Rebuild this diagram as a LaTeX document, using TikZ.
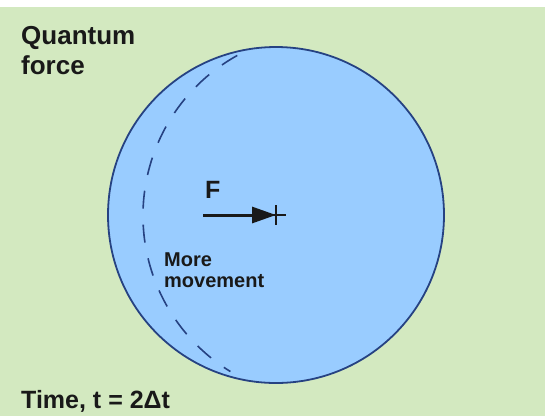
\documentclass[tikz,border=0pt]{standalone}
\usepackage{fontspec}
\setmainfont{Liberation Sans}
\usetikzlibrary{arrows.meta}

\definecolor{bggreen}{RGB}{211,233,192}
\definecolor{ballblue}{RGB}{153,204,255}
\definecolor{rimblue}{RGB}{38,66,130}
\definecolor{inkblack}{RGB}{25,25,25}

\begin{document}
\begin{tikzpicture}[x=1pt, y=-1pt,
    bigtext/.style={font=\fontsize{26}{29.5}\selectfont\bfseries, text=inkblack, inner sep=0pt},
    smalltext/.style={font=\fontsize{20}{21}\selectfont\bfseries, text=inkblack, inner sep=0pt}]
        % Sfondo
        \useasboundingbox (0,0) rectangle (545,416);
        \fill[bggreen] (0,7) rectangle (545,416);

        % Sfera
        \coordinate (ctr) at (276,215);
        \coordinate (shift) at (326,215.5);
        \draw[rimblue, line width=1.8pt, fill=ballblue] (ctr) circle (168pt);

        % Posizione precedente (tratteggiata)
        \draw[rimblue, line width=1.6pt, dash pattern=on 18pt off 16pt]
            (shift) ++(119:183pt) arc[start angle=119, end angle=238.5, radius=183pt];

        % Centro
        \draw[inkblack, line width=1.3pt] (276,205) -- (276,225);
        \draw[inkblack, line width=1.3pt] (266,215) -- (286,215);

        % Forza
        \coordinate (ftail) at (203,215);
        \draw[inkblack, line width=3pt, -{Triangle[length=24pt,width=16pt]}] (ftail) -- (ctr);

        % Testi
        \node[bigtext, anchor=north west, align=left] (qlabel) at (21,26.5) {Quantum\\force};
        \node[bigtext, font=\fontsize{25}{30}\selectfont\bfseries, anchor=base west] (flabel) at (205,198) {F};
        \node[smalltext, anchor=north west, align=left] (mlabel) at (164,253) {More\\movement};
        \node[bigtext, font=\fontsize{25}{30}\selectfont\bfseries, anchor=base west] (tlabel) at (21,408) {Time, t = 2Δt};

    \end{tikzpicture}
\end{document}
